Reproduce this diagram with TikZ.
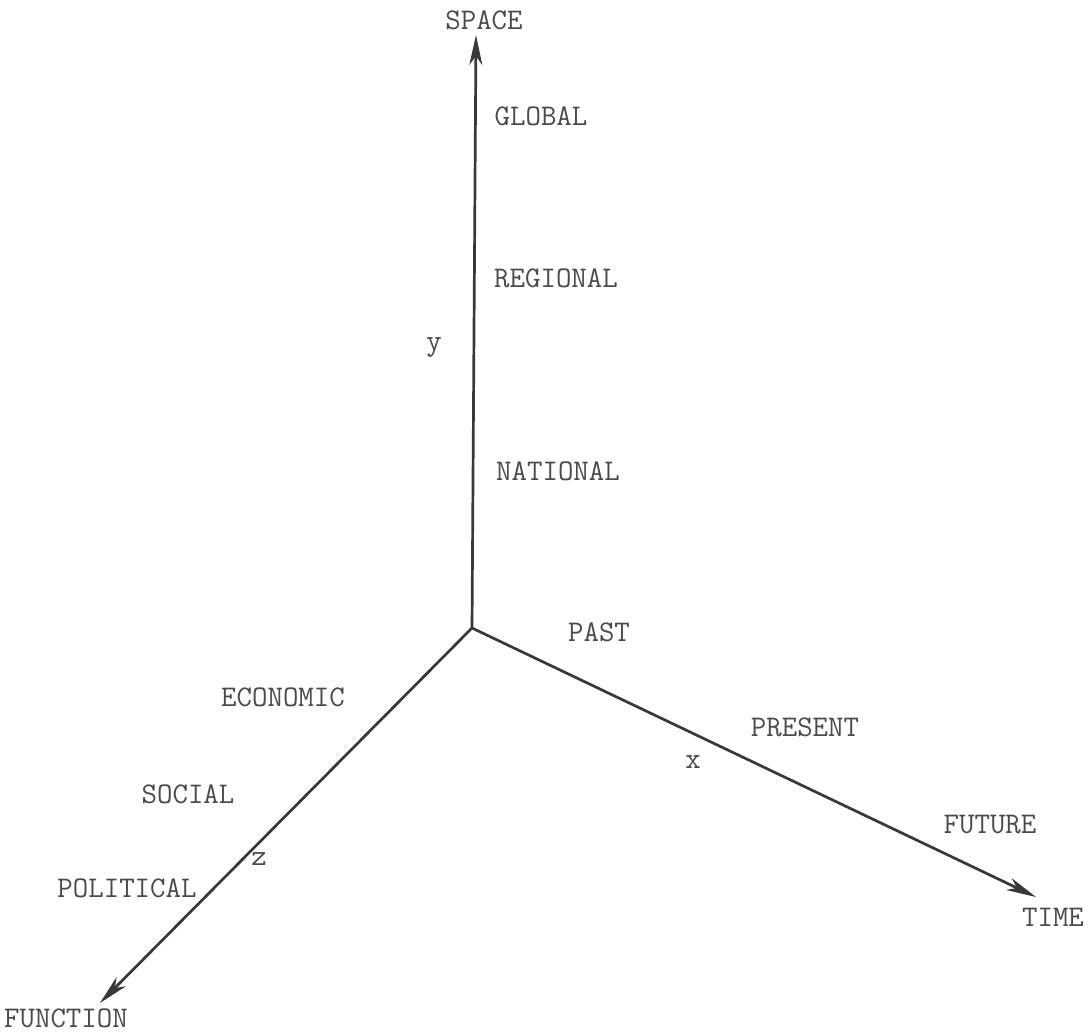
\documentclass[tikz,border=0pt]{standalone}
\usetikzlibrary{arrows.meta}
\definecolor{ink}{HTML}{383838}
\definecolor{txt}{HTML}{4A4A4A}
\begin{document}
\begin{tikzpicture}[x=1pt,y=-1pt,
  axis/.style={draw=ink,line width=2.7pt,-{Stealth[length=30pt,width=13pt,inset=9pt]}},
  lab/.style={text=txt,font=\fontsize{30}{32}\selectfont\ttfamily,inner sep=0pt}]
\useasboundingbox (0,0) rectangle (1092,1032);
\coordinate (O) at (472,628);
\coordinate (Y) at (476,35);
\coordinate (X) at (1036,897);
\coordinate (Z) at (100,1003);
\draw[axis] (O) -- (Y);
\draw[axis] (O) -- (X);
\draw[axis] (O) -- (Z);
\node[lab] (space) at (484,20) {SPACE};
\node[lab] (global) at (541,116) {GLOBAL};
\node[lab] (regional) at (556,278) {REGIONAL};
\node[lab] (ylab) at (434,347) {y};
\node[lab] (national) at (558,471) {NATIONAL};
\node[lab] (past) at (599,632) {PAST};
\node[lab] (economic) at (283,697) {ECONOMIC};
\node[lab] (present) at (805,727) {PRESENT};
\node[lab] (xlab) at (693,762) {x};
\node[lab] (social) at (188,794) {SOCIAL};
\node[lab] (future) at (990,825) {FUTURE};
\node[lab] (zlab) at (259,859) {z};
\node[lab] (political) at (127,888) {POLITICAL};
\node[lab] (time) at (1053,917) {TIME};
\node[lab] (function) at (66,1018) {FUNCTION};
\end{tikzpicture}
\end{document}
